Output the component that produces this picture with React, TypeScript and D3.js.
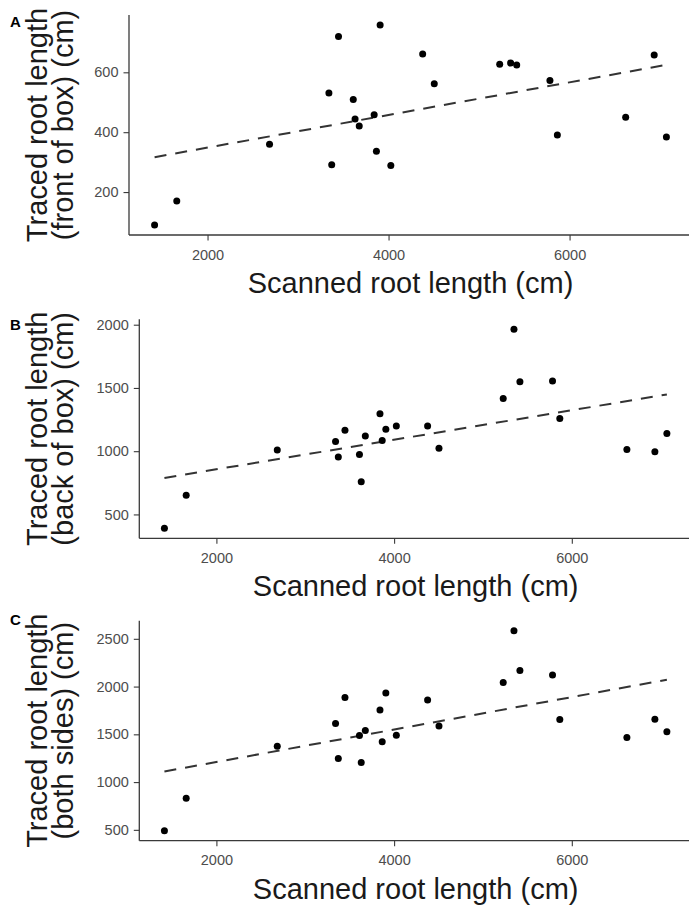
import React, { useEffect, useRef } from 'react';
import * as d3 from 'd3';

// scanned root length (cm), same plants in every panel
const scanned = [1415, 1660, 2685, 3341, 3372, 3447, 3610, 3630, 3676, 3841, 3866, 3907, 4025, 4377, 4505, 5228, 5349, 5416, 5783, 5865, 6620, 6935, 7070];
// traced root length (cm)
const tracedFront = [90, 170, 360, 531, 291, 720, 509, 444, 421, 458, 336, 758, 289, 661, 562, 627, 631, 624, 573, 391, 450, 658, 384];
const tracedBack = [390, 652, 1010, 1077, 955, 1166, 974, 759, 1120, 1296, 1084, 1173, 1199, 1199, 1024, 1416, 1964, 1548, 1555, 1259, 1013, 995, 1139];
const tracedBoth = [491, 830, 1376, 1613, 1248, 1885, 1488, 1206, 1540, 1756, 1421, 1933, 1491, 1860, 1588, 2042, 2585, 2167, 2121, 1655, 1467, 1658, 1526];

const xTicks = [2000, 4000, 6000];
const yTicksFront = [200, 400, 600];
const yTicksBack = [500, 1000, 1500, 2000];
const yTicksBoth = [500, 1000, 1500, 2000, 2500];

const xTitle = 'Scanned root length (cm)';
const yTitleTop = 'Traced root length';

const FONT = '"Liberation Sans", Arial, sans-serif';

// ggplot style 5% padding
const padded = (vals: number[]) => {
  const [lo, hi] = d3.extent(vals) as [number, number];
  const p = (hi - lo) * 0.05;
  return [lo - p, hi + p];
};

const lm = (xs: number[], ys: number[]) => {
  const mx = d3.mean(xs) as number;
  const my = d3.mean(ys) as number;
  let sxy = 0, sxx = 0;
  xs.forEach((x, i) => {
    sxy += (x - mx) * (ys[i] - my);
    sxx += (x - mx) * (x - mx);
  });
  const b = sxy / sxx;
  return { a: my - b * mx, b };
};

type PanelProps = {
  letter: string;
  letterY: number;
  yTitle: string;
  ys: number[];
  yTicks: number[];
  left: number;
  top: number;
  bottom: number;
};

const Panel = (props: PanelProps) => {
  const ref = useRef<SVGGElement>(null);
  const right = 692;

  useEffect(() => {
    const g = d3.select(ref.current);
    g.selectAll('*').remove();

    const x = d3.scaleLinear().domain(padded(scanned)).range([props.left, right]);
    const y = d3.scaleLinear().domain(padded(props.ys)).range([props.bottom, props.top]);

    const xAxis = g.append('g')
      .attr('transform', `translate(0,${props.bottom})`)
      .call(d3.axisBottom(x).tickValues(xTicks).tickSize(5.5).tickPadding(9).tickFormat(d3.format('d')));
    const yAxis = g.append('g')
      .attr('transform', `translate(${props.left},0)`)
      .call(d3.axisLeft(y).tickValues(props.yTicks).tickSize(5.5).tickPadding(5).tickFormat(d3.format('d')));

    [xAxis, yAxis].forEach(ax => {
      ax.select('.domain').attr('stroke', '#3a3a3a').attr('stroke-width', 1.3);
      ax.selectAll('.tick line').attr('stroke', '#3a3a3a').attr('stroke-width', 1.1);
      ax.selectAll('.tick text')
        .attr('fill', '#4d4d4d')
        .style('font-family', FONT)
        .style('font-size', '14.5px');
    });
    // axis lines run the full panel, like ggplot's theme_classic
    xAxis.select('.domain').attr('d', `M${props.left},0H${right}`);
    yAxis.select('.domain').attr('d', `M0,${props.bottom}V${props.top}`);

    const fit = lm(scanned, props.ys);
    const [x0, x1] = d3.extent(scanned) as [number, number];
    const line = d3.line<number>().x(d => x(d)).y(d => y(fit.a + fit.b * d));
    g.append('path')
      .attr('d', line([x0, x1]))
      .attr('fill', 'none')
      .attr('stroke', '#333')
      .attr('stroke-width', 2)
      .attr('stroke-dasharray', '12,9');

    g.selectAll('circle.pt')
      .data(scanned)
      .enter()
      .append('circle')
      .attr('class', 'pt')
      .attr('cx', d => x(d))
      .attr('cy', (d, i) => y(props.ys[i]))
      .attr('r', 3.5)
      .attr('fill', '#000');

    const midY = (props.top + props.bottom) / 2;
    const midX = (props.left + right) / 2;

    g.append('text')
      .attr('x', midX)
      .attr('y', props.bottom + 58)
      .attr('text-anchor', 'middle')
      .attr('fill', '#1a1a1a')
      .style('font-family', FONT)
      .style('font-size', '29px')
      .text(xTitle);

    [yTitleTop, props.yTitle].forEach((t, i) => {
      g.append('text')
        .attr('transform', `translate(${47 + i * 26},${midY}) rotate(-90)`)
        .attr('text-anchor', 'middle')
        .attr('fill', '#1a1a1a')
        .style('font-family', FONT)
        .style('font-size', '29px')
        .text(t);
    });

    g.append('text')
      .attr('x', 10)
      .attr('y', props.letterY)
      .attr('fill', '#000')
      .style('font-family', FONT)
      .style('font-size', '15px')
      .style('font-weight', 'bold')
      .text(props.letter);
  }, [props]);

  return <g ref={ref} />;
};

export default function App() {
  return (
    <svg
      width={689}
      height={905}
      style={{ position: 'absolute', left: 0, top: 0, background: '#fff', overflow: 'hidden' }}
    >
      <rect width={689} height={905} fill="#fff" />
      <Panel letter="A" letterY={27} yTitle="(front of box) (cm)" ys={tracedFront} yTicks={yTicksFront} left={129} top={15} bottom={235} />
      <Panel letter="B" letterY={330} yTitle="(back of box) (cm)" ys={tracedBack} yTicks={yTicksBack} left={139.3} top={319.3} bottom={538.3} />
      <Panel letter="C" letterY={625} yTitle="(both sides) (cm)" ys={tracedBoth} yTicks={yTicksBoth} left={139.3} top={620.7} bottom={840.7} />
    </svg>
  );
}
